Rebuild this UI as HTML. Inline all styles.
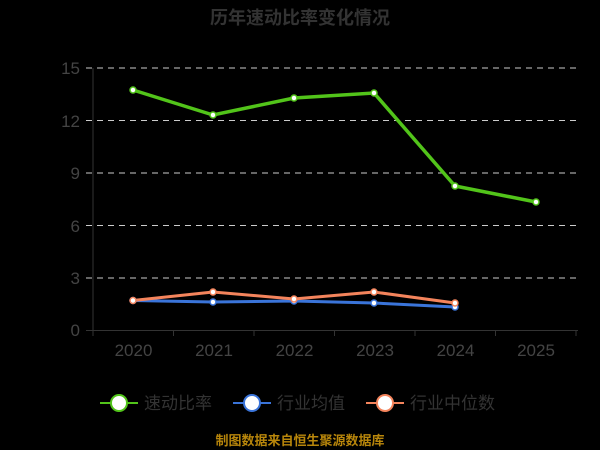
<!DOCTYPE html>
<html><head><meta charset="utf-8"><style>
html,body{margin:0;padding:0;background:#000;}
svg{display:block;font-family:"Liberation Sans","Noto Sans CJK SC",sans-serif;}
</style></head><body>
<svg width="600" height="450" viewBox="0 0 600 450">
<rect width="600" height="450" fill="#000"/>
<text x="300" y="24" text-anchor="middle" font-size="18" font-weight="bold" fill="#333">历年速动比率变化情况</text>
<g stroke="#ccc" stroke-width="1" stroke-dasharray="6,5">
<line x1="86" y1="68" x2="578" y2="68"/>
<line x1="86" y1="120.5" x2="578" y2="120.5"/>
<line x1="86" y1="173" x2="578" y2="173"/>
<line x1="86" y1="225.5" x2="578" y2="225.5"/>
<line x1="86" y1="278" x2="578" y2="278"/>
</g>
<g stroke="#333" stroke-width="1">
<line x1="93" y1="68" x2="93" y2="330"/>
<line x1="86" y1="330.5" x2="578" y2="330.5"/>
<line x1="93" y1="330" x2="93" y2="336"/>
<line x1="173.5" y1="330" x2="173.5" y2="336"/>
<line x1="254" y1="330" x2="254" y2="336"/>
<line x1="334.5" y1="330" x2="334.5" y2="336"/>
<line x1="415" y1="330" x2="415" y2="336"/>
<line x1="495.5" y1="330" x2="495.5" y2="336"/>
<line x1="576" y1="330" x2="576" y2="336"/>
</g>
<g fill="#444" font-size="17" text-anchor="end">
<text x="80" y="74">15</text><text x="80" y="127">12</text><text x="80" y="179">9</text>
<text x="80" y="232">6</text><text x="80" y="284">3</text><text x="80" y="336">0</text>
</g>
<g fill="#444" font-size="17" text-anchor="middle">
<text x="133.5" y="356">2020</text><text x="214" y="356">2021</text><text x="294.5" y="356">2022</text>
<text x="375" y="356">2023</text><text x="455.5" y="356">2024</text><text x="536" y="356">2025</text>
</g>
<polyline fill="none" stroke="#3a74d9" stroke-width="3" points="133,300.5 213,302 294,301 374,303 455,307"/>
<polyline fill="none" stroke="#f4845c" stroke-width="3" points="133,300.5 213,292 294,299 374,292 455,303"/>
<polyline fill="none" stroke="#52c41a" stroke-width="3.5" points="133,90 213,115 294,98 374,93 455,186 536,202"/>
<g stroke-width="1.5" fill="#fff">
<g stroke="#3a74d9"><circle cx="133" cy="300.5" r="3"/><circle cx="213" cy="302" r="3"/><circle cx="294" cy="301" r="3"/><circle cx="374" cy="303" r="3"/><circle cx="455" cy="307" r="3"/></g>
<g stroke="#f4845c"><circle cx="133" cy="300.5" r="3"/><circle cx="213" cy="292" r="3"/><circle cx="294" cy="299" r="3"/><circle cx="374" cy="292" r="3"/><circle cx="455" cy="303" r="3"/></g>
<g stroke="#52c41a"><circle cx="133" cy="90" r="3"/><circle cx="213" cy="115" r="3"/><circle cx="294" cy="98" r="3"/><circle cx="374" cy="93" r="3"/><circle cx="455" cy="186" r="3"/><circle cx="536" cy="202" r="3"/></g>
</g>
<g font-size="17" fill="#333">
<line x1="100" y1="403" x2="138" y2="403" stroke="#52c41a" stroke-width="2"/>
<circle cx="119" cy="403" r="8" fill="#fff" stroke="#52c41a" stroke-width="2"/>
<text x="144" y="409">速动比率</text>
<line x1="233" y1="403" x2="271" y2="403" stroke="#3a74d9" stroke-width="2"/>
<circle cx="252" cy="403" r="8" fill="#fff" stroke="#3a74d9" stroke-width="2"/>
<text x="277" y="409">行业均值</text>
<line x1="366" y1="403" x2="404" y2="403" stroke="#f4845c" stroke-width="2"/>
<circle cx="385" cy="403" r="8" fill="#fff" stroke="#f4845c" stroke-width="2"/>
<text x="410" y="409">行业中位数</text>
</g>
<text x="300" y="445" text-anchor="middle" font-size="13" font-weight="bold" fill="#b8860b">制图数据来自恒生聚源数据库</text>
</svg>
</body></html>
